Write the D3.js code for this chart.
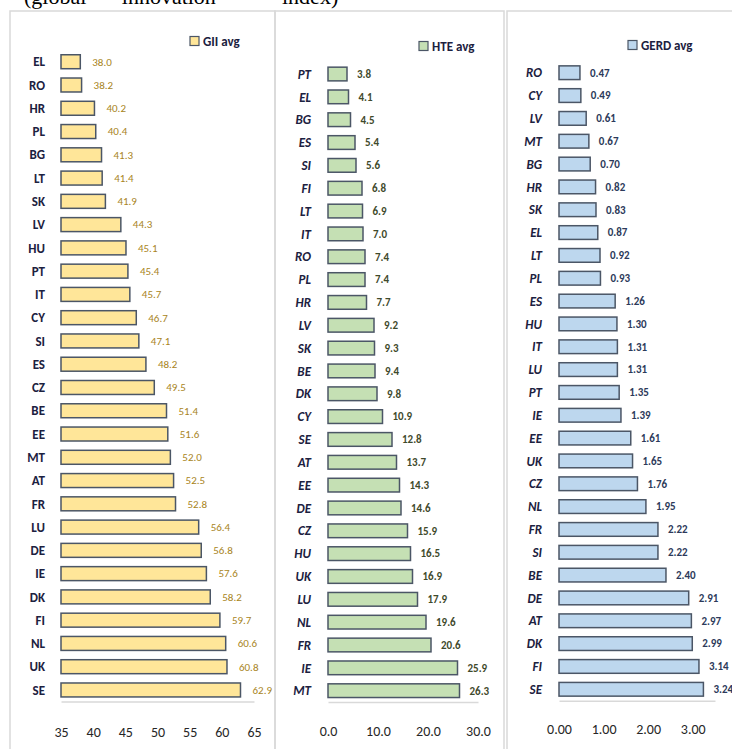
<!DOCTYPE html>
<html>
<head>
<meta charset="utf-8">
<script src="https://cdn.jsdelivr.net/npm/d3@7"></script>
<style>
  html, body { margin: 0; padding: 0; background: #fff; }
  svg { display: block; }
</style>
</head>
<body>
<svg id="chart" width="732" height="749"></svg>
<script>
// ---------------- DATA ----------------
const giiCategories = ["EL","RO","HR","PL","BG","LT","SK","LV","HU","PT","IT","CY","SI","ES","CZ","BE","EE","MT","AT","FR","LU","DE","IE","DK","FI","NL","UK","SE"];
const giiValues = [38.0,38.2,40.2,40.4,41.3,41.4,41.9,44.3,45.1,45.4,45.7,46.7,47.1,48.2,49.5,51.4,51.6,52.0,52.5,52.8,56.4,56.8,57.6,58.2,59.7,60.6,60.8,62.9];
const giiTicks = [35,40,45,50,55,60,65];

const hteCategories = ["PT","EL","BG","ES","SI","FI","LT","IT","RO","PL","HR","LV","SK","BE","DK","CY","SE","AT","EE","DE","CZ","HU","UK","LU","NL","FR","IE","MT"];
const hteValues = [3.8,4.1,4.5,5.4,5.6,6.8,6.9,7.0,7.4,7.4,7.7,9.2,9.3,9.4,9.8,10.9,12.8,13.7,14.3,14.6,15.9,16.5,16.9,17.9,19.6,20.6,25.9,26.3];
const hteTicks = [0,10,20,30];

const gerdCategories = ["RO","CY","LV","MT","BG","HR","SK","EL","LT","PL","ES","HU","IT","LU","PT","IE","EE","UK","CZ","NL","FR","SI","BE","DE","AT","DK","FI","SE"];
const gerdValues = [0.47,0.49,0.61,0.67,0.70,0.82,0.83,0.87,0.92,0.93,1.26,1.30,1.31,1.31,1.35,1.39,1.61,1.65,1.76,1.95,2.22,2.22,2.40,2.91,2.97,2.99,3.14,3.24];
const gerdTicks = [0,1,2,3];

const seriesNames = ["GII avg","HTE avg","GERD avg"];
const titleParts = ["(global", "\u201Cinnovation\u201D", "index)"];

// ---------------- LAYOUT / STYLE ----------------
const svg = d3.select("#chart");
const FONT = "Carlito, Lato, 'Liberation Sans', sans-serif";
const labelColor = "#1c2140";
const borderColor = "#d9d9d9";
const barStroke = "#4b5666";

// heading text at very top (clipped by the picture edge, as in the reference)
const titleX = [24, 112, 282];
svg.selectAll("text.title").data(titleParts).enter().append("text")
  .attr("class", "title")
  .attr("x", (d, i) => titleX[i]).attr("y", 4)
  .style("font-family", "'Liberation Serif', 'DejaVu Serif', serif")
  .style("font-size", "22px")
  .attr("fill", "#000")
  .text(d => d);

const panels = [
  {
    name: seriesNames[0], cats: giiCategories, vals: giiValues, ticks: giiTicks,
    domain: [35, 65], xr: [61, 254], yr: [50.1, 701.6],
    box: [10, 11, 275, 760], fill: "#FFE699", valColor: "#A8841C", valWeight: 400,
    italic: false, catRight: 45, valGap: 12, fmt: d3.format(".1f"), tickFmt: d3.format("d"),
    tickPad: 25, legend: [190, 41]
  },
  {
    name: seriesNames[1], cats: hteCategories, vals: hteValues, ticks: hteTicks,
    domain: [0, 30], xr: [328, 478], yr: [62.6, 702.1],
    box: [275, 11, 504, 760], fill: "#C5E0B4", valColor: "#3f4a2c", valWeight: 600,
    italic: true, catRight: 311, valGap: 10, fmt: d3.format(".1f"), tickFmt: d3.format(".1f"),
    tickPad: 24, legend: [419, 46]
  },
  {
    name: seriesNames[2], cats: gerdCategories, vals: gerdValues, ticks: gerdTicks,
    domain: [0, 3.5], xr: [559, 715], yr: [61.3, 700.7],
    box: [507, 11, 745, 760], fill: "#BDD7EE", valColor: "#2c3a5a", valWeight: 600,
    italic: true, catRight: 542, valGap: 10, fmt: d3.format(".2f"), tickFmt: d3.format(".2f"),
    tickPad: 23, legend: [628, 45]
  }
];

panels.forEach(p => {
  const g = svg.append("g");

  // panel border
  g.append("rect")
    .attr("x", p.box[0]).attr("y", p.box[1])
    .attr("width", p.box[2] - p.box[0]).attr("height", p.box[3] - p.box[1])
    .attr("fill", "none").attr("stroke", borderColor).attr("stroke-width", 1.5);

  const x = d3.scaleLinear().domain(p.domain).range(p.xr);
  const y = d3.scaleBand().domain(p.cats).range(p.yr).paddingInner(0.4).paddingOuter(0.2);

  const data = p.cats.map((c, i) => ({ c, v: p.vals[i] }));

  // bars
  g.selectAll("rect.bar").data(data).enter().append("rect")
    .attr("class", "bar")
    .attr("x", x(p.domain[0]))
    .attr("y", d => y(d.c))
    .attr("width", d => x(d.v) - x(p.domain[0]))
    .attr("height", y.bandwidth())
    .attr("fill", p.fill)
    .attr("stroke", barStroke)
    .attr("stroke-width", 1.5);

  // value labels
  g.selectAll("text.val").data(data).enter().append("text")
    .attr("class", "val")
    .attr("x", d => x(d.v) + p.valGap)
    .attr("y", d => y(d.c) + y.bandwidth() / 2)
    .attr("dy", "0.35em")
    .style("font-family", FONT)
    .style("font-size", "11px")
    .style("font-weight", p.valWeight)
    .attr("fill", p.valColor)
    .text(d => p.fmt(d.v));

  // category labels
  g.selectAll("text.cat").data(data).enter().append("text")
    .attr("class", "cat")
    .attr("x", p.catRight)
    .attr("y", d => y(d.c) + y.bandwidth() / 2)
    .attr("dy", "0.36em")
    .attr("text-anchor", "end")
    .style("font-family", FONT)
    .style("font-size", "13px")
    .style("font-weight", "bold")
    .style("font-style", p.italic ? "italic" : "normal")
    .attr("fill", labelColor)
    .text(d => d.c);

  // x axis
  const axisY = p.yr[1];
  const axis = d3.axisBottom(x).tickValues(p.ticks).tickFormat(p.tickFmt)
    .tickSizeInner(0).tickSizeOuter(0).tickPadding(p.tickPad);
  const ag = g.append("g").attr("transform", `translate(0,${axisY})`).call(axis);
  ag.select(".domain").attr("stroke", borderColor).attr("stroke-width", 1.5);
  ag.selectAll("text")
    .style("font-family", FONT)
    .style("font-size", "14px")
    .attr("fill", "#262626");

  // legend
  g.append("rect")
    .attr("x", p.legend[0]).attr("y", p.legend[1] - 4.5)
    .attr("width", 9).attr("height", 9)
    .attr("fill", p.fill).attr("stroke", barStroke).attr("stroke-width", 1.2);
  g.append("text")
    .attr("x", p.legend[0] + 13).attr("y", p.legend[1])
    .attr("dy", "0.36em")
    .style("font-family", FONT)
    .style("font-size", "13px")
    .style("font-weight", "bold")
    .attr("fill", labelColor)
    .text(p.name);
});
</script>
</body>
</html>
